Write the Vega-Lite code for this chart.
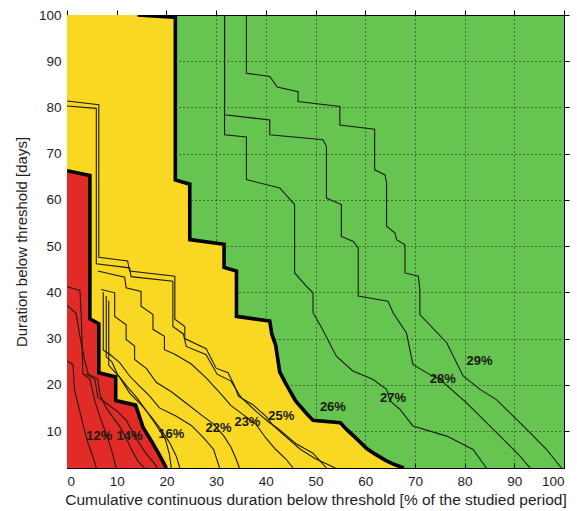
{
  "$schema": "https://vega.github.io/schema/vega-lite/v6.json",
  "width": 497,
  "height": 453,
  "autosize": {"type": "none"},
  "padding": {"left": 67, "top": 15, "right": 13, "bottom": 43},
  "background": "white",
  "config": {
    "view": {"fill": "#66c450", "stroke": null},
    "font": "Liberation Sans",
    "axis": {
      "labelFont": "Liberation Sans",
      "labelFontSize": 13.5,
      "labelColor": "#1e1e1e",
      "titleFont": "Liberation Sans",
      "titleFontSize": 15,
      "titleFontWeight": "normal",
      "titleColor": "#1e1e1e",
      "domainColor": "#000",
      "domainWidth": 1,
      "tickColor": "#000",
      "tickSize": -5,
      "labelPadding": 11,
      "gridColor": "#111",
      "gridDash": [1, 3],
      "gridOpacity": 0.9,
      "zindex": 1
    }
  },
  "datasets": {
    "yellowEdge": [
      {"i": 0, "x": 0, "y": 100}, {"i": 1, "x": 14.2, "y": 100}, {"i": 2, "x": 21.4, "y": 99.5},
      {"i": 3, "x": 21.8, "y": 99.5}, {"i": 4, "x": 21.8, "y": 64.3}, {"i": 5, "x": 24.7, "y": 63.4},
      {"i": 6, "x": 24.7, "y": 51.4}, {"i": 7, "x": 31.6, "y": 50.4}, {"i": 8, "x": 31.6, "y": 45.4},
      {"i": 9, "x": 34.1, "y": 44.6}, {"i": 10, "x": 34.1, "y": 34.8}, {"i": 11, "x": 40.8, "y": 33.8},
      {"i": 12, "x": 41.2, "y": 31}, {"i": 13, "x": 42, "y": 28.5}, {"i": 14, "x": 42.8, "y": 22.8},
      {"i": 15, "x": 44, "y": 20.3}, {"i": 16, "x": 46, "y": 16.5}, {"i": 17, "x": 48.2, "y": 13.8},
      {"i": 18, "x": 49.5, "y": 12.3}, {"i": 19, "x": 55, "y": 11.8}, {"i": 20, "x": 56.3, "y": 10.3},
      {"i": 21, "x": 58.2, "y": 8.4}, {"i": 22, "x": 60.3, "y": 6.2}, {"i": 23, "x": 62, "y": 5},
      {"i": 24, "x": 64, "y": 3.7}, {"i": 25, "x": 66, "y": 2.7}, {"i": 26, "x": 67.8, "y": 2}
    ],
    "redEdge": [
      {"i": 0, "x": 0, "y": 66.3}, {"i": 1, "x": 4.6, "y": 65.3}, {"i": 2, "x": 4.6, "y": 34.3},
      {"i": 3, "x": 6.4, "y": 33.2}, {"i": 4, "x": 6.4, "y": 22.6}, {"i": 5, "x": 9.8, "y": 21.7},
      {"i": 6, "x": 9.8, "y": 16.6}, {"i": 7, "x": 13.8, "y": 15.6}, {"i": 8, "x": 15.3, "y": 10.8},
      {"i": 9, "x": 17, "y": 7.8}, {"i": 10, "x": 18.5, "y": 5}, {"i": 11, "x": 20, "y": 2}
    ],
    "thin": [
      {"s": "y1", "i": 0, "x": 0, "y": 81.4}, {"s": "y1", "i": 1, "x": 6.4, "y": 80.6}, {"s": "y1", "i": 2, "x": 6.4, "y": 47.6},
      {"s": "y1", "i": 3, "x": 12.2, "y": 46.8}, {"s": "y1", "i": 4, "x": 12.6, "y": 44.6}, {"s": "y1", "i": 5, "x": 21.7, "y": 43.5},
      {"s": "y1", "i": 6, "x": 21.7, "y": 34.2}, {"s": "y1", "i": 7, "x": 23.7, "y": 32.6}, {"s": "y1", "i": 8, "x": 23.7, "y": 30},
      {"s": "y1", "i": 9, "x": 28, "y": 27.8}, {"s": "y1", "i": 10, "x": 30, "y": 23.6}, {"s": "y1", "i": 11, "x": 32.4, "y": 22.6},
      {"s": "y1", "i": 12, "x": 33.7, "y": 19.8}, {"s": "y1", "i": 13, "x": 34.5, "y": 17.5}, {"s": "y1", "i": 14, "x": 37.4, "y": 15.7},
      {"s": "y1", "i": 15, "x": 40.1, "y": 13.1}, {"s": "y1", "i": 16, "x": 41.4, "y": 11.3}, {"s": "y1", "i": 17, "x": 44, "y": 8.8},
      {"s": "y1", "i": 18, "x": 47, "y": 6}, {"s": "y1", "i": 19, "x": 50, "y": 4}, {"s": "y1", "i": 20, "x": 54, "y": 2},

      {"s": "y2", "i": 0, "x": 0, "y": 80.3}, {"s": "y2", "i": 1, "x": 5.9, "y": 79.8}, {"s": "y2", "i": 2, "x": 5.9, "y": 46.2},
      {"s": "y2", "i": 3, "x": 12.6, "y": 45.3}, {"s": "y2", "i": 4, "x": 12.9, "y": 43.4}, {"s": "y2", "i": 5, "x": 21.3, "y": 42.4},
      {"s": "y2", "i": 6, "x": 21.3, "y": 32.6}, {"s": "y2", "i": 7, "x": 23.4, "y": 31}, {"s": "y2", "i": 8, "x": 24, "y": 28.3},
      {"s": "y2", "i": 9, "x": 28, "y": 26.5}, {"s": "y2", "i": 10, "x": 30.2, "y": 22.3}, {"s": "y2", "i": 11, "x": 33, "y": 20.8},
      {"s": "y2", "i": 12, "x": 35, "y": 17.3}, {"s": "y2", "i": 13, "x": 38, "y": 14.3}, {"s": "y2", "i": 14, "x": 40.5, "y": 12},
      {"s": "y2", "i": 15, "x": 42.5, "y": 10.5}, {"s": "y2", "i": 16, "x": 46, "y": 7.3}, {"s": "y2", "i": 17, "x": 49.5, "y": 5.2},
      {"s": "y2", "i": 18, "x": 52.2, "y": 2},

      {"s": "y3", "i": 0, "x": 6.2, "y": 44.6}, {"s": "y3", "i": 1, "x": 11.6, "y": 43.3}, {"s": "y3", "i": 2, "x": 11.9, "y": 41},
      {"s": "y3", "i": 3, "x": 14.9, "y": 40.2}, {"s": "y3", "i": 4, "x": 14.9, "y": 37}, {"s": "y3", "i": 5, "x": 17.3, "y": 35.2},
      {"s": "y3", "i": 6, "x": 17.3, "y": 32}, {"s": "y3", "i": 7, "x": 19.6, "y": 30.5}, {"s": "y3", "i": 8, "x": 19.6, "y": 27.6},
      {"s": "y3", "i": 9, "x": 21.7, "y": 26.6}, {"s": "y3", "i": 10, "x": 25, "y": 24.5}, {"s": "y3", "i": 11, "x": 28, "y": 21.5},
      {"s": "y3", "i": 12, "x": 31, "y": 18}, {"s": "y3", "i": 13, "x": 33, "y": 15.5}, {"s": "y3", "i": 14, "x": 35.5, "y": 13.5},
      {"s": "y3", "i": 15, "x": 38, "y": 11.5}, {"s": "y3", "i": 16, "x": 40, "y": 8.5}, {"s": "y3", "i": 17, "x": 42, "y": 6},
      {"s": "y3", "i": 18, "x": 44, "y": 4}, {"s": "y3", "i": 19, "x": 45.5, "y": 2},

      {"s": "y4", "i": 0, "x": 6.9, "y": 40.6}, {"s": "y4", "i": 1, "x": 9.6, "y": 39.9}, {"s": "y4", "i": 2, "x": 9.6, "y": 34.8},
      {"s": "y4", "i": 3, "x": 11.9, "y": 33}, {"s": "y4", "i": 4, "x": 11.9, "y": 29.8}, {"s": "y4", "i": 5, "x": 13.6, "y": 28.4},
      {"s": "y4", "i": 6, "x": 13.6, "y": 25.5}, {"s": "y4", "i": 7, "x": 16, "y": 23.5}, {"s": "y4", "i": 8, "x": 18, "y": 20.5},
      {"s": "y4", "i": 9, "x": 21, "y": 18.5}, {"s": "y4", "i": 10, "x": 24, "y": 16}, {"s": "y4", "i": 11, "x": 27, "y": 13.5},
      {"s": "y4", "i": 12, "x": 29.5, "y": 11.5}, {"s": "y4", "i": 13, "x": 31.5, "y": 9}, {"s": "y4", "i": 14, "x": 33, "y": 6.5},
      {"s": "y4", "i": 15, "x": 34, "y": 4}, {"s": "y4", "i": 16, "x": 34.7, "y": 2},

      {"s": "y5", "i": 0, "x": 7.3, "y": 40}, {"s": "y5", "i": 1, "x": 7.3, "y": 27.5}, {"s": "y5", "i": 2, "x": 8.6, "y": 26.6},
      {"s": "y5", "i": 3, "x": 10.6, "y": 24.8}, {"s": "y5", "i": 4, "x": 12.6, "y": 21.9}, {"s": "y5", "i": 5, "x": 14.6, "y": 19.7},
      {"s": "y5", "i": 6, "x": 16.6, "y": 17.6}, {"s": "y5", "i": 7, "x": 18.6, "y": 15}, {"s": "y5", "i": 8, "x": 22, "y": 13.2},
      {"s": "y5", "i": 9, "x": 25, "y": 11.2}, {"s": "y5", "i": 10, "x": 27.5, "y": 8.5}, {"s": "y5", "i": 11, "x": 29.5, "y": 6},
      {"s": "y5", "i": 12, "x": 30.7, "y": 2},

      {"s": "y6", "i": 0, "x": 7.9, "y": 39.2}, {"s": "y6", "i": 1, "x": 7.9, "y": 26}, {"s": "y6", "i": 2, "x": 9, "y": 25},
      {"s": "y6", "i": 3, "x": 10.2, "y": 22.2}, {"s": "y6", "i": 4, "x": 12.2, "y": 19.5}, {"s": "y6", "i": 5, "x": 14.2, "y": 17},
      {"s": "y6", "i": 6, "x": 16.2, "y": 14}, {"s": "y6", "i": 7, "x": 18, "y": 11.2}, {"s": "y6", "i": 8, "x": 19.8, "y": 8.2},
      {"s": "y6", "i": 9, "x": 20.6, "y": 5}, {"s": "y6", "i": 10, "x": 21, "y": 2},

      {"s": "y7", "i": 0, "x": 8.4, "y": 38.2}, {"s": "y7", "i": 1, "x": 8.4, "y": 24.2}, {"s": "y7", "i": 2, "x": 10.6, "y": 21.6},
      {"s": "y7", "i": 3, "x": 12.6, "y": 18.2}, {"s": "y7", "i": 4, "x": 15, "y": 15.6}, {"s": "y7", "i": 5, "x": 17, "y": 13},
      {"s": "y7", "i": 6, "x": 19, "y": 10.2}, {"s": "y7", "i": 7, "x": 20.8, "y": 7.2}, {"s": "y7", "i": 8, "x": 22, "y": 4.5},
      {"s": "y7", "i": 9, "x": 22.7, "y": 2},

      {"s": "r1", "i": 0, "x": 0, "y": 25.1}, {"s": "r1", "i": 1, "x": 1.2, "y": 24.4}, {"s": "r1", "i": 2, "x": 1.5, "y": 19},
      {"s": "r1", "i": 3, "x": 2.4, "y": 15}, {"s": "r1", "i": 4, "x": 3.3, "y": 11}, {"s": "r1", "i": 5, "x": 4.2, "y": 7.5},
      {"s": "r1", "i": 6, "x": 5.2, "y": 4.5}, {"s": "r1", "i": 7, "x": 5.9, "y": 2},

      {"s": "r2", "i": 0, "x": 0, "y": 41.2}, {"s": "r2", "i": 1, "x": 2.6, "y": 40.4}, {"s": "r2", "i": 2, "x": 2.9, "y": 34.2},
      {"s": "r2", "i": 3, "x": 3.2, "y": 22.4}, {"s": "r2", "i": 4, "x": 4.6, "y": 21.2}, {"s": "r2", "i": 5, "x": 5.6, "y": 16.5},
      {"s": "r2", "i": 6, "x": 6.5, "y": 13.5}, {"s": "r2", "i": 7, "x": 7.5, "y": 10.5}, {"s": "r2", "i": 8, "x": 8.5, "y": 7.5},
      {"s": "r2", "i": 9, "x": 9.3, "y": 4.5}, {"s": "r2", "i": 10, "x": 9.9, "y": 2},

      {"s": "r3", "i": 0, "x": 0, "y": 37.2}, {"s": "r3", "i": 1, "x": 1.8, "y": 35.5}, {"s": "r3", "i": 2, "x": 2.6, "y": 30.5},
      {"s": "r3", "i": 3, "x": 3.5, "y": 25.5}, {"s": "r3", "i": 4, "x": 4.3, "y": 22.3}, {"s": "r3", "i": 5, "x": 6.2, "y": 21.3},
      {"s": "r3", "i": 6, "x": 6.6, "y": 18}, {"s": "r3", "i": 7, "x": 7.8, "y": 15.2}, {"s": "r3", "i": 8, "x": 9.2, "y": 13},
      {"s": "r3", "i": 9, "x": 10.6, "y": 11}, {"s": "r3", "i": 10, "x": 12, "y": 8.2}, {"s": "r3", "i": 11, "x": 13.2, "y": 5.5},
      {"s": "r3", "i": 12, "x": 14.3, "y": 3.5}, {"s": "r3", "i": 13, "x": 15.6, "y": 2},

      {"s": "r4", "i": 0, "x": 3.8, "y": 22.4}, {"s": "r4", "i": 1, "x": 5.6, "y": 21.2}, {"s": "r4", "i": 2, "x": 6.2, "y": 17.3},
      {"s": "r4", "i": 3, "x": 8.2, "y": 15.8}, {"s": "r4", "i": 4, "x": 10.2, "y": 14.2}, {"s": "r4", "i": 5, "x": 12, "y": 12.2},
      {"s": "r4", "i": 6, "x": 13.3, "y": 9.6}, {"s": "r4", "i": 7, "x": 14.6, "y": 7.2}, {"s": "r4", "i": 8, "x": 16, "y": 5},
      {"s": "r4", "i": 9, "x": 17.4, "y": 3.2}, {"s": "r4", "i": 10, "x": 18.2, "y": 2},

      {"s": "g27", "i": 0, "x": 31.7, "y": 100}, {"s": "g27", "i": 1, "x": 31.7, "y": 74.1}, {"s": "g27", "i": 2, "x": 36.1, "y": 73.6},
      {"s": "g27", "i": 3, "x": 36.1, "y": 64.4}, {"s": "g27", "i": 4, "x": 42.8, "y": 62.6}, {"s": "g27", "i": 5, "x": 45.8, "y": 59},
      {"s": "g27", "i": 6, "x": 45.8, "y": 44.2}, {"s": "g27", "i": 7, "x": 48.2, "y": 41.3}, {"s": "g27", "i": 8, "x": 49.5, "y": 39.9},
      {"s": "g27", "i": 9, "x": 49.5, "y": 35.6}, {"s": "g27", "i": 10, "x": 51.2, "y": 32.4}, {"s": "g27", "i": 11, "x": 54.2, "y": 26.2},
      {"s": "g27", "i": 12, "x": 57.5, "y": 23}, {"s": "g27", "i": 13, "x": 61.5, "y": 21.2}, {"s": "g27", "i": 14, "x": 64.3, "y": 19},
      {"s": "g27", "i": 15, "x": 65, "y": 16.5}, {"s": "g27", "i": 16, "x": 67, "y": 14.7}, {"s": "g27", "i": 17, "x": 69.6, "y": 11.1},
      {"s": "g27", "i": 18, "x": 76.4, "y": 8.9}, {"s": "g27", "i": 19, "x": 81.7, "y": 6}, {"s": "g27", "i": 20, "x": 84.4, "y": 2},

      {"s": "g28", "i": 0, "x": 31.7, "y": 100}, {"s": "g28", "i": 1, "x": 31.7, "y": 78.4}, {"s": "g28", "i": 2, "x": 40.8, "y": 77.3},
      {"s": "g28", "i": 3, "x": 40.8, "y": 74.1}, {"s": "g28", "i": 4, "x": 51.5, "y": 73}, {"s": "g28", "i": 5, "x": 52.2, "y": 71.6},
      {"s": "g28", "i": 6, "x": 52.2, "y": 60.4}, {"s": "g28", "i": 7, "x": 55.2, "y": 59}, {"s": "g28", "i": 8, "x": 55.2, "y": 52.1},
      {"s": "g28", "i": 9, "x": 57.6, "y": 51}, {"s": "g28", "i": 10, "x": 58.6, "y": 49.6}, {"s": "g28", "i": 11, "x": 58.6, "y": 39.2},
      {"s": "g28", "i": 12, "x": 62.3, "y": 38.5}, {"s": "g28", "i": 13, "x": 64.6, "y": 38.1}, {"s": "g28", "i": 14, "x": 65.6, "y": 35.6},
      {"s": "g28", "i": 15, "x": 68.3, "y": 31.2}, {"s": "g28", "i": 16, "x": 69.6, "y": 24.4}, {"s": "g28", "i": 17, "x": 73, "y": 22.2},
      {"s": "g28", "i": 18, "x": 75, "y": 21.2}, {"s": "g28", "i": 19, "x": 80.4, "y": 16.1}, {"s": "g28", "i": 20, "x": 84.4, "y": 11.8},
      {"s": "g28", "i": 21, "x": 87.8, "y": 8.2}, {"s": "g28", "i": 22, "x": 91.1, "y": 4.6}, {"s": "g28", "i": 23, "x": 93.2, "y": 2},

      {"s": "g29", "i": 0, "x": 36.1, "y": 100}, {"s": "g29", "i": 1, "x": 36.1, "y": 87.4}, {"s": "g29", "i": 2, "x": 40.8, "y": 86.7},
      {"s": "g29", "i": 3, "x": 42.3, "y": 84.4}, {"s": "g29", "i": 4, "x": 46.5, "y": 83.4}, {"s": "g29", "i": 5, "x": 46.5, "y": 81.3},
      {"s": "g29", "i": 6, "x": 54.9, "y": 80.2}, {"s": "g29", "i": 7, "x": 54.9, "y": 76.2}, {"s": "g29", "i": 8, "x": 61.9, "y": 75.3},
      {"s": "g29", "i": 9, "x": 61.9, "y": 66.5}, {"s": "g29", "i": 10, "x": 64, "y": 65.4}, {"s": "g29", "i": 11, "x": 64.3, "y": 63.6},
      {"s": "g29", "i": 12, "x": 64.3, "y": 54.3}, {"s": "g29", "i": 13, "x": 66, "y": 52.8}, {"s": "g29", "i": 14, "x": 66.3, "y": 51.4},
      {"s": "g29", "i": 15, "x": 68, "y": 50.3}, {"s": "g29", "i": 16, "x": 68, "y": 44.2}, {"s": "g29", "i": 17, "x": 70.7, "y": 43.5},
      {"s": "g29", "i": 18, "x": 71, "y": 40.6}, {"s": "g29", "i": 19, "x": 71, "y": 35.2}, {"s": "g29", "i": 20, "x": 76.4, "y": 29.1},
      {"s": "g29", "i": 21, "x": 79.7, "y": 21.9}, {"s": "g29", "i": 22, "x": 83.1, "y": 19}, {"s": "g29", "i": 23, "x": 86.4, "y": 16.8},
      {"s": "g29", "i": 24, "x": 89.8, "y": 13.2}, {"s": "g29", "i": 25, "x": 93.2, "y": 9.6}, {"s": "g29", "i": 26, "x": 96.5, "y": 6},
      {"s": "g29", "i": 27, "x": 99.5, "y": 2}
    ],
    "labels": [
      {"x": 6.5, "y": 8.9, "t": "12%"}, {"x": 12.6, "y": 8.9, "t": "14%"}, {"x": 21, "y": 9.3, "t": "16%"},
      {"x": 30.5, "y": 10.7, "t": "22%"}, {"x": 36.3, "y": 11.9, "t": "23%"}, {"x": 43.1, "y": 13.3, "t": "25%"},
      {"x": 53.5, "y": 15.2, "t": "26%"}, {"x": 65.6, "y": 17.2, "t": "27%"}, {"x": 75.6, "y": 21.2, "t": "28%"},
      {"x": 83, "y": 25.1, "t": "29%"}
    ]
  },
  "resolve": {"axis": {"x": "independent", "y": "independent"}},
  "layer": [
    {
      "data": {"name": "yellowEdge"},
      "mark": {"type": "area", "fill": "#f8d823", "fillOpacity": 1, "orient": "vertical"},
      "encoding": {
        "x": {"field": "x", "type": "quantitative", "scale": {"domain": [0, 100], "nice": false},
          "axis": {"title": "Cumulative continuous duration below threshold [% of the studied period]",
            "values": [0, 10, 20, 30, 40, 50, 60, 70, 80, 90, 100], "grid": true, "titlePadding": 5, "titleFontSize": 15.5}},
        "y": {"field": "y", "type": "quantitative", "stack": null, "scale": {"domain": [2, 100], "nice": false, "zero": false},
          "axis": {"title": "Duration below threshold [days]",
            "values": [10, 20, 30, 40, 50, 60, 70, 80, 90, 100], "grid": true, "titlePadding": 9}}
      }
    },
    {
      "data": {"name": "redEdge"},
      "mark": {"type": "area", "fill": "#e22a26", "fillOpacity": 1, "orient": "vertical"},
      "encoding": {
        "x": {"field": "x", "type": "quantitative", "axis": null},
        "y": {"field": "y", "type": "quantitative", "stack": null, "axis": null}
      }
    },
    {
      "data": {"name": "thin"},
      "mark": {"type": "line", "color": "#1c1c14", "strokeWidth": 1.1, "clip": true},
      "encoding": {
        "x": {"field": "x", "type": "quantitative", "axis": null},
        "y": {"field": "y", "type": "quantitative", "axis": null},
        "detail": {"field": "s", "type": "nominal"},
        "order": {"field": "i", "type": "quantitative"}
      }
    },
    {
      "data": {"name": "yellowEdge"},
      "transform": [{"filter": "datum.x >= 14"}],
      "mark": {"type": "line", "color": "#000", "strokeWidth": 3.6, "strokeJoin": "miter", "clip": true},
      "encoding": {
        "x": {"field": "x", "type": "quantitative", "axis": null},
        "y": {"field": "y", "type": "quantitative", "axis": null},
        "order": {"field": "i", "type": "quantitative"}
      }
    },
    {
      "data": {"name": "redEdge"},
      "mark": {"type": "line", "color": "#000", "strokeWidth": 3.6, "strokeJoin": "miter", "clip": true},
      "encoding": {
        "x": {"field": "x", "type": "quantitative", "axis": null},
        "y": {"field": "y", "type": "quantitative", "axis": null},
        "order": {"field": "i", "type": "quantitative"}
      }
    },
    {
      "data": {"name": "labels"},
      "mark": {"type": "text", "font": "Liberation Sans", "fontSize": 13, "fontWeight": "bold", "color": "#1a1a12", "align": "center", "baseline": "middle"},
      "encoding": {
        "x": {"field": "x", "type": "quantitative",
          "axis": {"orient": "top", "title": null, "labels": false, "grid": false, "tickSize": 5, "values": [0, 10, 20, 30, 40, 50, 60, 70, 80, 90, 100]}},
        "y": {"field": "y", "type": "quantitative",
          "axis": {"orient": "right", "title": null, "labels": false, "grid": false, "tickSize": 5, "values": [10, 20, 30, 40, 50, 60, 70, 80, 90, 100]}},
        "text": {"field": "t", "type": "nominal"}
      }
    }
  ]
}
